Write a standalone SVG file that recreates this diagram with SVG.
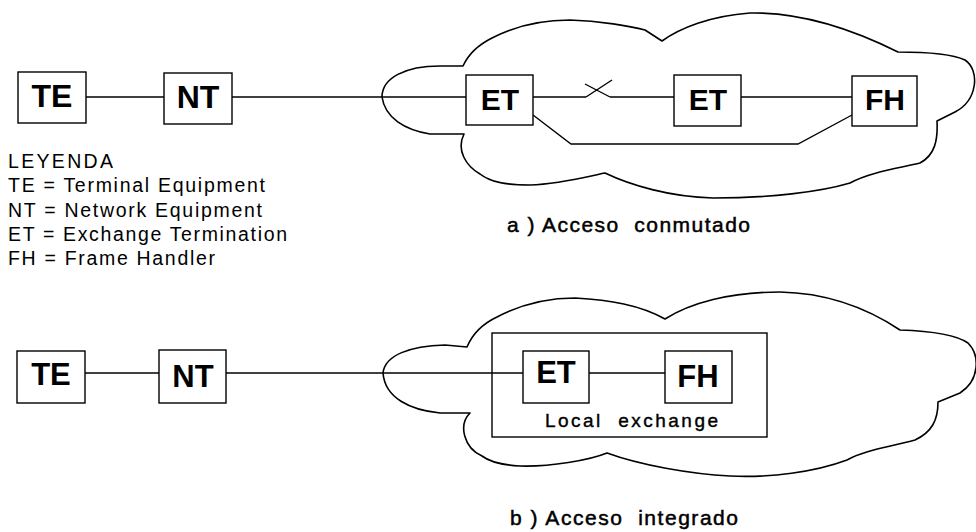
<svg xmlns="http://www.w3.org/2000/svg" width="976" height="532" viewBox="0 0 976 532">
  <style>
    .box { fill: #fff; stroke: #000; stroke-width: 1.4; }
    .frame { fill: none; stroke: #000; stroke-width: 1.4; }
    .cloud { fill: none; stroke: #000; stroke-width: 1.6; stroke-linejoin: round; }
    .wire { fill: none; stroke: #000; stroke-width: 1.4; }
    .lbl { font-family: "Liberation Sans", Arial, sans-serif; font-weight: bold; text-anchor: middle; fill: #000; }
    .leg { font-family: "Liberation Sans", Arial, sans-serif; font-size: 19.5px; fill: #000; }
    .cap { font-family: "Liberation Sans", Arial, sans-serif; font-size: 21px; fill: #000; stroke: #000; stroke-width: 0.5; }
  </style>
  <rect width="976" height="532" fill="#fff"/>

  <!-- a) switched access -->
  <path id="cloud-a" class="cloud" d="M382,97 C382,78 405,66 440,66 L463,66 C468,55 478,45 492,38 C515,26 540,20 570,20 C600,21 630,26 645,30 L662,41 C680,28 710,16 750,13 C800,12 850,28 898,52 C920,52 950,53 965,60 C980,70 978,100 955,112 L937,121 C938,140 935,155 920,163 C900,168 870,172 850,183 C820,192 770,198 713,198 C670,197 630,185 605,173 C590,176 560,184 530,185 C505,185 490,182 480,174 C466,166 456,150 464,134 L430,134 C405,130 385,118 382,97 Z"/>

  <g id="connectors-a">
    <line class="wire" x1="86" y1="97" x2="164" y2="97"/>
    <line class="wire" x1="232" y1="97" x2="466" y2="97"/>
    <line class="wire" x1="533" y1="97" x2="586" y2="97"/>
    <line class="wire" x1="586" y1="97" x2="612" y2="80"/>
    <line class="wire" x1="585" y1="84" x2="610" y2="97"/>
    <line class="wire" x1="610" y1="97" x2="674" y2="97"/>
    <line class="wire" x1="741" y1="97" x2="852" y2="97"/>
    <polyline class="wire" points="533,115 571,144 798,144 852,115"/>
  </g>

  <g id="te-a"><rect class="box" x="18" y="72" width="68" height="51"/><text class="lbl" x="52" y="107" font-size="32">TE</text></g>
  <g id="nt-a"><rect class="box" x="164" y="73" width="68" height="51"/><text class="lbl" x="198" y="108" font-size="32">NT</text></g>
  <g id="et1-a"><rect class="box" x="466" y="75" width="67" height="50"/><text class="lbl" x="500" y="110" font-size="30">ET</text></g>
  <g id="et2-a"><rect class="box" x="674" y="75" width="67" height="51"/><text class="lbl" x="708" y="110" font-size="30">ET</text></g>
  <g id="fh-a"><rect class="box" x="852" y="76" width="65" height="50"/><text class="lbl" x="885" y="110" font-size="30">FH</text></g>

  <!-- legend -->
  <g id="legend">
    <text class="leg" x="8" y="168" textLength="105" lengthAdjust="spacing">LEYENDA</text>
    <text class="leg" x="8" y="192" textLength="257" lengthAdjust="spacing">TE = Terminal Equipment</text>
    <text class="leg" x="8" y="217" textLength="254" lengthAdjust="spacing">NT = Network Equipment</text>
    <text class="leg" x="8" y="241" textLength="279" lengthAdjust="spacing">ET = Exchange Termination</text>
    <text class="leg" x="8" y="265" textLength="207" lengthAdjust="spacing">FH = Frame Handler</text>
  </g>

  <text class="cap" x="507" y="232" textLength="243" lengthAdjust="spacing" xml:space="preserve">a ) Acceso  conmutado</text>

  <!-- b) integrated access -->
  <path id="cloud-b" class="cloud" d="M383,373 C385,355 410,346 445,345 L467,347 C472,335 480,325 497,317 C520,305 545,298 575,298 C610,300 640,305 665,319 C690,303 730,292 780,292 C830,293 870,310 900,330 C930,331 955,334 968,343 C980,355 980,380 960,393 L938,402 C938,420 932,432 915,440 C890,447 865,450 847,460 C815,472 770,478 730,476 C690,474 640,465 607,453 C590,460 550,467 520,466 C500,465 490,462 482,456 C464,448 458,425 470,413 L440,413 C410,410 385,398 383,373 Z"/>

  <g id="local-exchange">
    <rect class="frame" x="492" y="333" width="275" height="104"/>
    <text x="545" y="427" font-family="Liberation Sans, Arial, sans-serif" font-size="19" stroke="#000" stroke-width="0.4" textLength="173" lengthAdjust="spacing" xml:space="preserve">Local  exchange</text>
  </g>

  <g id="connectors-b">
    <line class="wire" x1="85" y1="373" x2="159" y2="373"/>
    <line class="wire" x1="226" y1="373" x2="523" y2="373"/>
    <line class="wire" x1="589" y1="373" x2="665" y2="373"/>
  </g>

  <g id="te-b"><rect class="box" x="17" y="351" width="68" height="52"/><text class="lbl" x="51" y="385" font-size="31">TE</text></g>
  <g id="nt-b"><rect class="box" x="159" y="350" width="67" height="53"/><text class="lbl" x="193" y="387" font-size="31">NT</text></g>
  <g id="et-b"><rect class="box" x="523" y="351" width="66" height="52"/><text class="lbl" x="556" y="383" font-size="31">ET</text></g>
  <g id="fh-b"><rect class="box" x="665" y="351" width="67" height="52"/><text class="lbl" x="698" y="387" font-size="31">FH</text></g>

  <text class="cap" x="510" y="525" textLength="228" lengthAdjust="spacing" xml:space="preserve">b ) Acceso  integrado</text>
</svg>
